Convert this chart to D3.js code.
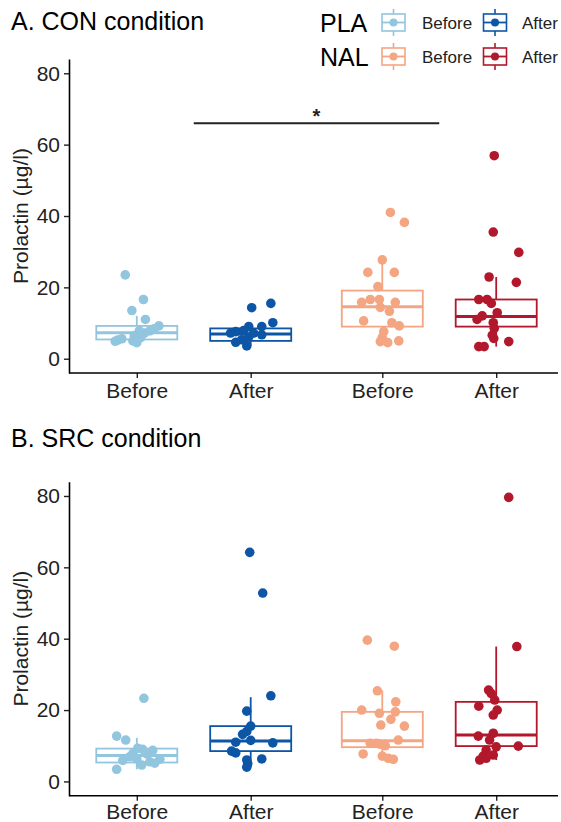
<!DOCTYPE html>
<html>
<head>
<meta charset="utf-8">
<script src="https://cdn.jsdelivr.net/npm/d3@7/dist/d3.min.js"></script>
<style>
  html, body { margin: 0; padding: 0; background: #fff; }
  svg { display: block; font-family: "Liberation Sans", Arial, sans-serif; }
</style>
</head>
<body>
<svg id="chart" width="561" height="822"></svg>
<script>
// ---------------- DATA ----------------
const panels = ["A. CON condition", "B. SRC condition"];
const drugs = ["PLA", "NAL"];
const times = ["Before", "After"];
const groupColors = ["#92C5DE", "#0D56A6", "#F4A582", "#B2182B"]; // PLA-Before, PLA-After, NAL-Before, NAL-After
const yTicks = [0, 20, 40, 60, 80];
const yLabel = "Prolactin (µg/l)";

// box stats: [lower whisker, Q1, median, Q3, upper whisker]
const boxesCON = [
  [4.5, 5.4, 7.3, 9.2, 12.0],
  [3.6, 5.0, 6.9, 8.5, 10.1],
  [4.5, 9.0, 14.6, 19.1, 27.7],
  [3.4, 9.0, 11.8, 16.6, 22.9]
];
const boxesSRC = [
  [3.4, 5.3, 7.3, 9.2, 12.2],
  [4.0, 8.5, 11.3, 15.5, 23.6],
  [6.2, 9.6, 11.4, 19.5, 25.5],
  [6.0, 9.9, 13.0, 22.3, 37.8]
];

// individual values per group
const conPLABefore = [23.5, 16.6, 13.5, 11.0, 9.2, 8.4, 7.8, 7.2, 7.8, 6.4, 5.9, 5.2, 5.0, 4.9, 4.5, 5.6];
const conPLAAfter  = [14.3, 15.5, 10.1, 9.0, 9.0, 7.6, 7.9, 7.2, 6.7, 6.1, 4.6, 3.6, 7.2, 5.3];
const conNALBefore = [41.0, 38.2, 27.7, 24.2, 24.2, 20.2, 15.8, 16.6, 16.6, 15.8, 14.4, 13.3, 10.6, 10.1, 9.2, 7.6, 6.0, 4.8, 4.5, 5.0];
const conNALAfter  = [56.9, 35.5, 29.8, 22.9, 21.4, 16.6, 16.6, 15.5, 12.9, 12.0, 11.0, 10.1, 8.5, 6.6, 4.8, 3.4, 3.4, 5.7];
const srcPLABefore = [23.3, 12.7, 11.6, 9.0, 8.7, 7.8, 7.7, 5.9, 6.3, 5.5, 4.6, 5.1, 3.4, 6.2, 6.9, 9.3];
const srcPLAAfter  = [64.2, 52.8, 24.0, 19.7, 15.5, 14.0, 13.2, 11.5, 11.0, 10.8, 8.5, 8.0, 6.3, 6.0, 5.0, 4.0];
const srcNALBefore = [39.6, 37.9, 25.4, 22.3, 20.0, 19.5, 19.1, 17.4, 15.8, 15.5, 11.6, 10.7, 10.4, 10.0, 7.7, 7.1, 6.5, 6.2, 10.7];
const srcNALAfter  = [79.6, 37.8, 25.6, 24.6, 22.8, 21.1, 20.0, 18.6, 12.7, 13.5, 11.6, 9.7, 9.9, 8.8, 7.1, 7.4, 6.0, 6.5];

// horizontal jitter of each point (thousandths of one x unit)
const jitConPLABefore = [-47, 27, -20, 35, 90, 71, 53, 31, 10, -10, 16, -78, -16, -88, 0, -61];
const jitConPLAAfter  = [4, 82, 90, -8, 45, -61, -29, 12, 45, -8, -61, -16, -82, -37];
const jitConNALBefore = [33, 90, 0, -59, 49, -18, -84, -49, -12, 53, -8, 29, -76, 39, 69, 6, 0, -8, 22, 67];
const jitConNALAfter  = [-8, -12, 92, -29, 82, -71, -37, -20, 4, -57, -78, -12, -8, -16, 51, -71, -49, -10];
const jitSrcPLABefore = [29, -82, -45, 24, 65, -16, 41, -57, 0, 53, 20, 73, -82, 94, -29, 4];
const jitSrcPLAAfter  = [-4, 49, 82, -16, 0, -16, -33, 0, -61, 90, -78, -61, 45, -16, -12, -16];
const jitSrcNALBefore = [-61, 49, -20, 55, -84, 53, -12, 35, -6, 90, 65, -49, -8, 12, -78, 0, 24, 45, -24];
const jitSrcNALAfter  = [51, 84, -31, -20, -6, -71, 4, -12, -73, -12, -27, 0, 90, -41, -53, -12, -67, -41];

const pointsCON = [conPLABefore, conPLAAfter, conNALBefore, conNALAfter];
const pointsSRC = [srcPLABefore, srcPLAAfter, srcNALBefore, srcNALAfter];
const jitterCON = [jitConPLABefore, jitConPLAAfter, jitConNALBefore, jitConNALAfter];
const jitterSRC = [jitSrcPLABefore, jitSrcPLAAfter, jitSrcNALBefore, jitSrcNALAfter];

// significance bracket in CON panel (PLA vs NAL)
const sigBracket = { from: 1, to: 2, y: 66, label: "*" };

// ---------------- LAYOUT ----------------
const svg = d3.select("#chart");
const dodge = 0.232;      // x-units offset of Before/After within a drug
const boxW = 0.33;        // x-units box width
const groupPos = [1 - dodge, 1 + dodge, 2 - dodge, 2 + dodge];
const groupLabels = [times[0], times[1], times[0], times[1]];

const x = d3.scaleLinear().domain([0.5, 2.5]).range([71, 562]);
const axisLeftX = 69, axisRightX = 558;

const panelDefs = [
  { title: panels[0], boxes: boxesCON, pts: pointsCON, jit: jitterCON, yRange: [373, 59], titleY: 30, pad: 5, sig: sigBracket },
  { title: panels[1], boxes: boxesSRC, pts: pointsSRC, jit: jitterSRC, yRange: [795.7, 481.7], titleY: 447, pad: 3, sig: null }
];

panelDefs.forEach(p => {
  const y = d3.scaleLinear().domain([-4, 84]).range(p.yRange);
  const g = svg.append("g");

  // title
  g.append("text").attr("x", 11).attr("y", p.titleY)
    .attr("font-size", 25).attr("fill", "#000").text(p.title);

  // y axis
  const ya = g.append("g").attr("transform", `translate(${axisLeftX},0)`)
    .call(d3.axisLeft(y).tickValues(yTicks).tickSize(5).tickPadding(4).tickSizeOuter(0));
  ya.select(".domain").attr("stroke", "#000").attr("stroke-width", 1.6);
  ya.selectAll(".tick line").attr("stroke", "#222").attr("stroke-width", 1.4);
  ya.selectAll(".tick text").attr("font-size", 21).attr("fill", "#222")
    .attr("font-family", "Liberation Sans, Arial, sans-serif");

  // x axis
  const xa = g.append("g").attr("transform", `translate(0,${p.yRange[0]})`)
    .call(d3.axisBottom(x).tickValues(groupPos).tickFormat((d, i) => groupLabels[i])
      .tickSize(5).tickPadding(p.pad).tickSizeOuter(0));
  xa.select(".domain").remove();
  xa.append("line").attr("x1", axisLeftX).attr("x2", axisRightX).attr("y1", 0).attr("y2", 0)
    .attr("stroke", "#000").attr("stroke-width", 1.6);
  xa.selectAll(".tick line").attr("stroke", "#222").attr("stroke-width", 1.4);
  xa.selectAll(".tick text").attr("font-size", 21).attr("fill", "#222")
    .attr("font-family", "Liberation Sans, Arial, sans-serif");

  // y label
  const yMid = (y(0) + y(80)) / 2;
  g.append("text")
    .attr("transform", `translate(28,${yMid}) rotate(-90)`)
    .attr("text-anchor", "middle").attr("font-size", 21).attr("fill", "#222")
    .text(yLabel);

  // boxes
  p.boxes.forEach((b, i) => {
    const c = groupColors[i];
    const cx = x(groupPos[i]);
    const x0 = x(groupPos[i] - boxW / 2), x1 = x(groupPos[i] + boxW / 2);
    const bg = g.append("g");
    bg.append("line").attr("x1", cx).attr("x2", cx).attr("y1", y(b[3])).attr("y2", y(b[4]))
      .attr("stroke", c).attr("stroke-width", 1.8);
    bg.append("line").attr("x1", cx).attr("x2", cx).attr("y1", y(b[1])).attr("y2", y(b[0]))
      .attr("stroke", c).attr("stroke-width", 1.8);
    bg.append("rect").attr("x", x0).attr("y", y(b[3])).attr("width", x1 - x0)
      .attr("height", y(b[1]) - y(b[3])).attr("fill", "#fff").attr("fill-opacity", 0)
      .attr("stroke", c).attr("stroke-width", 1.8);
    bg.append("line").attr("x1", x0).attr("x2", x1).attr("y1", y(b[2])).attr("y2", y(b[2]))
      .attr("stroke", c).attr("stroke-width", 3);
  });

  // points
  p.pts.forEach((vals, i) => {
    const c = groupColors[i];
    g.append("g").selectAll("circle").data(vals).join("circle")
      .attr("cx", (d, k) => x(groupPos[i] + p.jit[i][k] / 1000))
      .attr("cy", d => y(d))
      .attr("r", 4.8)
      .attr("fill", c);
  });

  // significance bracket
  if (p.sig) {
    g.append("line").attr("x1", x(p.sig.from)).attr("x2", x(p.sig.to))
      .attr("y1", y(p.sig.y)).attr("y2", y(p.sig.y))
      .attr("stroke", "#222").attr("stroke-width", 1.8);
    g.append("text").attr("x", x((p.sig.from + p.sig.to) / 2)).attr("y", y(p.sig.y) - 0.5)
      .attr("text-anchor", "middle").attr("font-size", 20).attr("font-weight", "bold")
      .attr("fill", "#222").text(p.sig.label);
  }
});

// ---------------- LEGEND ----------------
const legend = svg.append("g");
const legRowY = [22.5, 56.5];
const legKeyX = [393.5, 495];
const legTextX = [422, 522];
drugs.forEach((dname, r) => {
  const cy = legRowY[r];
  legend.append("text").attr("x", 320).attr("y", cy + 9).attr("font-size", 25)
    .attr("fill", "#000").text(dname);
  times.forEach((t, k) => {
    const c = groupColors[r * 2 + k];
    const kx = legKeyX[k];
    const kg = legend.append("g");
    kg.append("line").attr("x1", kx).attr("x2", kx).attr("y1", cy - 13.5).attr("y2", cy + 13.5)
      .attr("stroke", c).attr("stroke-width", 1.6);
    kg.append("rect").attr("x", kx - 11.5).attr("y", cy - 8.5).attr("width", 23).attr("height", 17)
      .attr("fill", "#fff").attr("stroke", c).attr("stroke-width", 1.6);
    kg.append("line").attr("x1", kx - 11.5).attr("x2", kx + 11.5).attr("y1", cy).attr("y2", cy)
      .attr("stroke", c).attr("stroke-width", 1.8);
    kg.append("circle").attr("cx", kx).attr("cy", cy).attr("r", 4).attr("fill", c);
    legend.append("text").attr("x", legTextX[k]).attr("y", cy + 6).attr("font-size", 17)
      .attr("fill", "#222").text(t);
  });
});
</script>
</body>
</html>
